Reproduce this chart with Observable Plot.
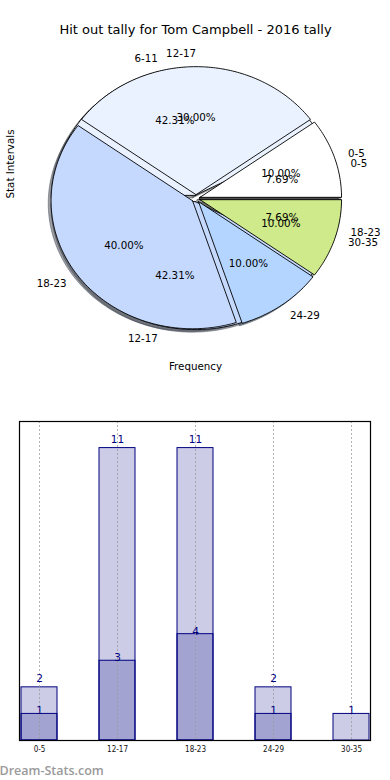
<!DOCTYPE html>
<html>
<head>
<meta charset="utf-8">
<script src="https://cdn.jsdelivr.net/npm/d3@7"></script>
<script src="https://cdn.jsdelivr.net/npm/@observablehq/plot@0.6"></script>
<style>
  html, body { margin: 0; padding: 0; background: #ffffff; }
  #chart { position: relative; width: 390px; height: 780px; overflow: hidden; }
  #chart svg { display: block; }
</style>
</head>
<body>
<div id="chart"></div>
<script>
// ---- data ----
const titleText = "Hit out tally for Tom Campbell - 2016 tally";
const yLabelText = "Stat Intervals";
const xLabelText = "Frequency";
const watermarkText = "Dream-Stats.com";

const pie1Labels = ["0-5", "6-11", "12-17", "18-23"];
const pie1Values = [2, 11, 11, 2];

const pie2Labels = ["0-5", "12-17", "18-23", "24-29", "30-35"];
const pie2Values = [1, 3, 4, 1, 1];

const pieColors = ["#ffffff", "#ebf2ff", "#c5d9ff", "#b3d5ff", "#cfea8a"];

const barCats = ["0-5", "12-17", "18-23", "24-29", "30-35"];
const barLight = [2, 11, 11, 2, 1];
const barDark = [1, 3, 4, 1, 0];

// ---- pie geometry (computed from data) ----
const rad = Math.PI / 180;
function buildPie(values, labels, explode, id) {
  const total = d3.sum(values);
  let acc = 0;
  const wedges = [], shadows = [], texts = [], pcts = [];
  values.forEach((v, i) => {
    const t1 = acc / total * 360;
    acc += v;
    const t2 = acc / total * 360;
    const tm = (t1 + t2) / 2;
    const ox = explode * Math.cos(tm * rad), oy = explode * Math.sin(tm * rad);
    const n = Math.max(2, Math.ceil(t2 - t1));
    const pts = [[ox, oy]];
    for (let k = 0; k <= n; k++) {
      const t = (t1 + (t2 - t1) * k / n) * rad;
      pts.push([ox + Math.cos(t), oy + Math.sin(t)]);
    }
    pts.push([ox, oy]);
    const col = pieColors[i];
    const c = d3.rgb(col);
    const sh = d3.rgb(c.r * 0.3, c.g * 0.3, c.b * 0.3).formatRgb();
    pts.forEach(([x, y]) => {
      wedges.push({key: id + i, x, y, fill: col});
      shadows.push({key: id + "s" + i, x: x - 0.02, y: y - 0.02, fill: sh});
    });
    const lx = ox + 1.1 * Math.cos(tm * rad), ly = oy + 1.1 * Math.sin(tm * rad);
    texts.push({x: lx, y: ly, text: labels[i], right: Math.cos(tm * rad) > 1e-9});
    pcts.push({x: ox + 0.6 * Math.cos(tm * rad), y: oy + 0.6 * Math.sin(tm * rad),
               text: (v / total * 100).toFixed(2) + "%"});
  });
  return {wedges, shadows, texts, pcts};
}
const p1 = buildPie(pie1Values, pie1Labels, 0.025, "a");
const p2 = buildPie(pie2Values, pie2Labels, 0.03, "b");
const allTexts = p1.texts.concat(p2.texts);
const allPcts = p1.pcts.concat(p2.pcts);

const font = "DejaVu Sans, sans-serif";
const pieH = 400;
const cx = 195.5, cy = 198, rx = 141.5, ry = 128;

const pie = Plot.plot({
  width: 390, height: pieH, margin: 0,
  x: {domain: [-cx / rx, (390 - cx) / rx], axis: null},
  y: {domain: [-(pieH - cy) / ry, cy / ry], axis: null},
  color: {type: "identity"},
  style: {fontFamily: font, background: "#ffffff", color: "#000"},
  marks: [
    Plot.line(p1.shadows.concat(p2.shadows), {x: "x", y: "y", z: "key", fill: "fill", stroke: "fill",
      fillOpacity: 0.5, strokeOpacity: 0.5, strokeWidth: 0.9}),
    Plot.line(p1.wedges, {x: "x", y: "y", z: "key", fill: "fill", stroke: "#000", strokeWidth: 0.9}),
    Plot.line(p2.wedges, {x: "x", y: "y", z: "key", fill: "fill", stroke: "#000", strokeWidth: 0.9}),
    Plot.text(allTexts.filter(d => d.right), {x: "x", y: "y", text: "text", textAnchor: "start",
      lineAnchor: "middle", fontSize: 10.3, fill: "#000"}),
    Plot.text(allTexts.filter(d => !d.right), {x: "x", y: "y", text: "text", textAnchor: "end",
      lineAnchor: "middle", fontSize: 10.3, fill: "#000"}),
    Plot.text(allPcts, {x: "x", y: "y", text: "text", textAnchor: "middle",
      lineAnchor: "middle", fontSize: 10.3, fill: "#000"}),
    Plot.text([titleText], {text: d => d, frameAnchor: "top", dy: 29.5, lineAnchor: "middle",
      fontSize: 13, fill: "#000"}),
    Plot.text([yLabelText], {text: d => d, frameAnchor: "left", dx: 10, dy: -2, rotate: -90,
      lineAnchor: "middle", fontSize: 10.3, fill: "#000"}),
    Plot.text([xLabelText], {text: d => d, frameAnchor: "bottom", dy: -(pieH - 366.5),
      lineAnchor: "middle", fontSize: 10.3, fill: "#000"})
  ]
});

// ---- bar chart ----
const lightData = barCats.map((c, i) => ({cat: c, v: barLight[i], hasDark: barDark[i] > 0}));
const darkData = barCats.map((c, i) => ({cat: c, v: barDark[i]})).filter(d => d.v > 0);
const navy = "#000080";

const bars = Plot.plot({
  width: 390, height: 380,
  marginLeft: 19, marginRight: 20, marginTop: 21, marginBottom: 40,
  x: {domain: barCats, paddingInner: 0.543, paddingOuter: 0, label: null, tickSize: 0, tickPadding: 6},
  y: {domain: [0, 12], axis: null},
  style: {fontFamily: "DejaVu Sans Condensed, DejaVu Sans, sans-serif", fontSize: "8px",
          background: "#ffffff", color: "#111"},
  marks: [
    Plot.barY(lightData, {x: "cat", y: "v", fill: navy, fillOpacity: 0.2, stroke: navy, strokeWidth: 1}),
    Plot.barY(darkData, {x: "cat", y: "v", fill: navy, fillOpacity: 0.2, stroke: navy, strokeWidth: 1}),
    Plot.ruleX(barCats, {x: d => d, stroke: "#999", strokeOpacity: 0.75, strokeDasharray: "2,2", strokeWidth: 1}),
    Plot.text(lightData.filter(d => d.hasDark || d.v > 1), {x: "cat", y: "v", text: d => String(d.v), dy: -8.5,
      lineAnchor: "middle", fill: navy, fontSize: 10.5, fontFamily: font}),
    Plot.text(lightData.filter(d => !(d.hasDark || d.v > 1)), {x: "cat", y: "v", text: d => String(d.v), dy: -3.5,
      lineAnchor: "middle", fill: navy, fontSize: 10.5, fontFamily: font}),
    Plot.text(darkData, {x: "cat", y: "v", text: d => String(d.v), dy: -3,
      lineAnchor: "middle", fill: navy, fontSize: 10.5, fontFamily: font}),
    Plot.frame({stroke: "#000", strokeWidth: 1.2}),
    Plot.text([watermarkText], {text: d => d, frameAnchor: "bottom-left", dx: -20, dy: 30,
      textAnchor: "start", lineAnchor: "middle", fill: "#9a9a9a", fontSize: 12.5, fontWeight: 600,
      fontFamily: "Open Sans, DejaVu Sans, sans-serif"})
  ]
});

const chart = document.getElementById("chart");
chart.appendChild(pie);
chart.appendChild(bars);
</script>
</body>
</html>
